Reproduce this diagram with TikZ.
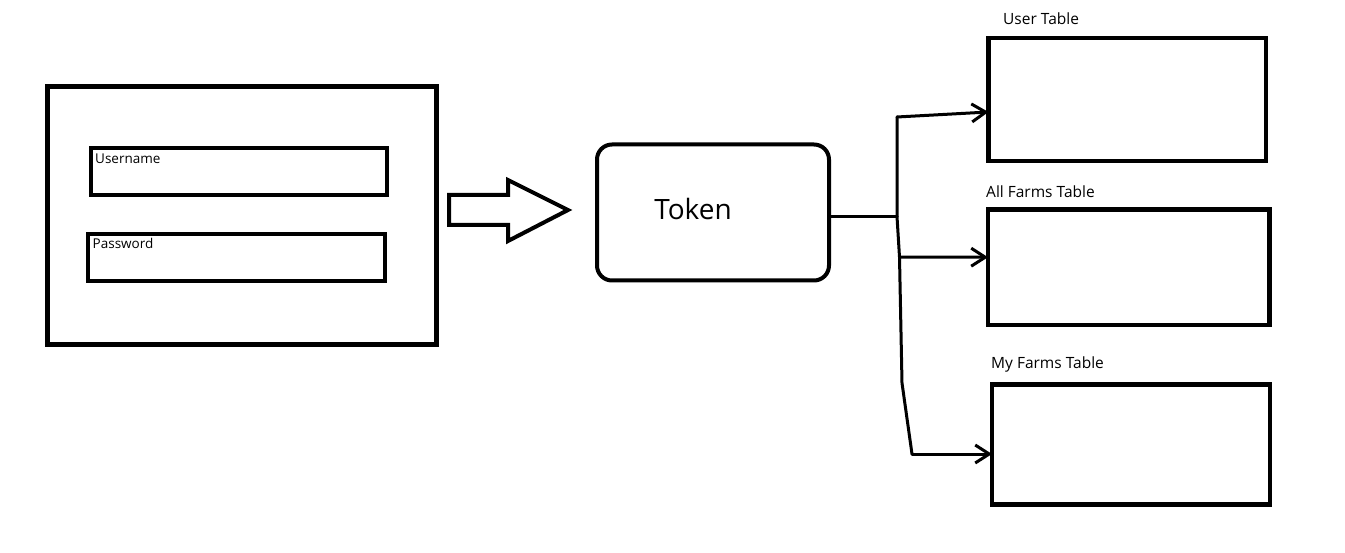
\documentclass[tikz,border=0pt]{standalone}
\usepackage{fontspec}
\setmainfont{Open Sans}
\usetikzlibrary{arrows.meta}
\begin{document}
\begin{tikzpicture}[x=1pt,y=-1pt,
  box/.style={draw=black, line width=5pt, inner sep=0pt, outer sep=0pt},
  field/.style={draw=black, line width=4pt, inner sep=0pt, outer sep=0pt},
  tokenbox/.style={draw=black, line width=4pt, rounded corners=15pt, inner sep=0pt, outer sep=0pt},
  conn/.style={line width=3pt, line join=round, line cap=round},
  arr/.style={conn, -{Straight Barb[length=14pt,width=18pt,line width=3pt]}},
  lbl/.style={font=\fontsize{15.5}{18}\selectfont, anchor=base west, inner sep=0pt},
  flbl/.style={font=\fontsize{13.5}{16}\selectfont, anchor=base west, inner sep=0pt}]
\useasboundingbox (0,0) rectangle (1345,553);

% login form
\node[box, minimum width=389pt, minimum height=257.5pt] (form) at (241.5,215.75) {};
\node[field, minimum width=296pt, minimum height=47pt] (user field) at (239,171.5) {};
\node[field, minimum width=297.5pt, minimum height=46.5pt] (pass field) at (236.25,257.75) {};
\node[flbl] (ulbl) at (95,164) {Username};
\node[flbl] (plbl) at (92.5,249) {Password};

% block arrow
\draw[line width=4pt, line join=miter] (449,195) -- (508,195) -- (508,180) -- (568,210) -- (508,241) -- (508,225) -- (449,225) -- cycle;

% token
\node[tokenbox, minimum width=232pt, minimum height=136pt] (token) at (713,212.5) {};
\node[font=\fontsize{28}{32}\selectfont, inner sep=0pt] (tokentext) at (693,209) {Token};

% tables
\node[box, line width=4.5pt, minimum width=277.5pt, minimum height=123pt] (usert) at (1127.25,99.5) {};
\node[box, line width=4.5pt, minimum width=281.5pt, minimum height=115.5pt] (allt) at (1128.75,267.25) {};
\node[box, line width=4.5pt, minimum width=278pt, minimum height=120pt] (myt) at (1131,444.5) {};
\node[lbl] (usertl) at (1003,24.3) {User Table};
\node[lbl] (alltl) at (986,198) {All Farms Table};
\node[lbl] (mytl) at (991,369) {My Farms Table};

% connectors
\coordinate (j0) at (897,216.5);
\coordinate (jt) at (897,117);
\coordinate (jm) at (899.5,257);
\coordinate (jb1) at (902,383);
\coordinate (jb2) at (912,454);
\draw[conn] (token.east |- j0) -- (j0);
\draw[conn] (jt) -- (j0) -- (jm) -- (jb1) -- (jb2);
\draw[arr] (jt) -- ([yshift=-12.5pt]usert.west);
\draw[arr] (jm) -- ([yshift=10pt]allt.west);
\draw[arr] (jb2) -- ([yshift=-9.5pt]myt.west);
\end{tikzpicture}
\end{document}
